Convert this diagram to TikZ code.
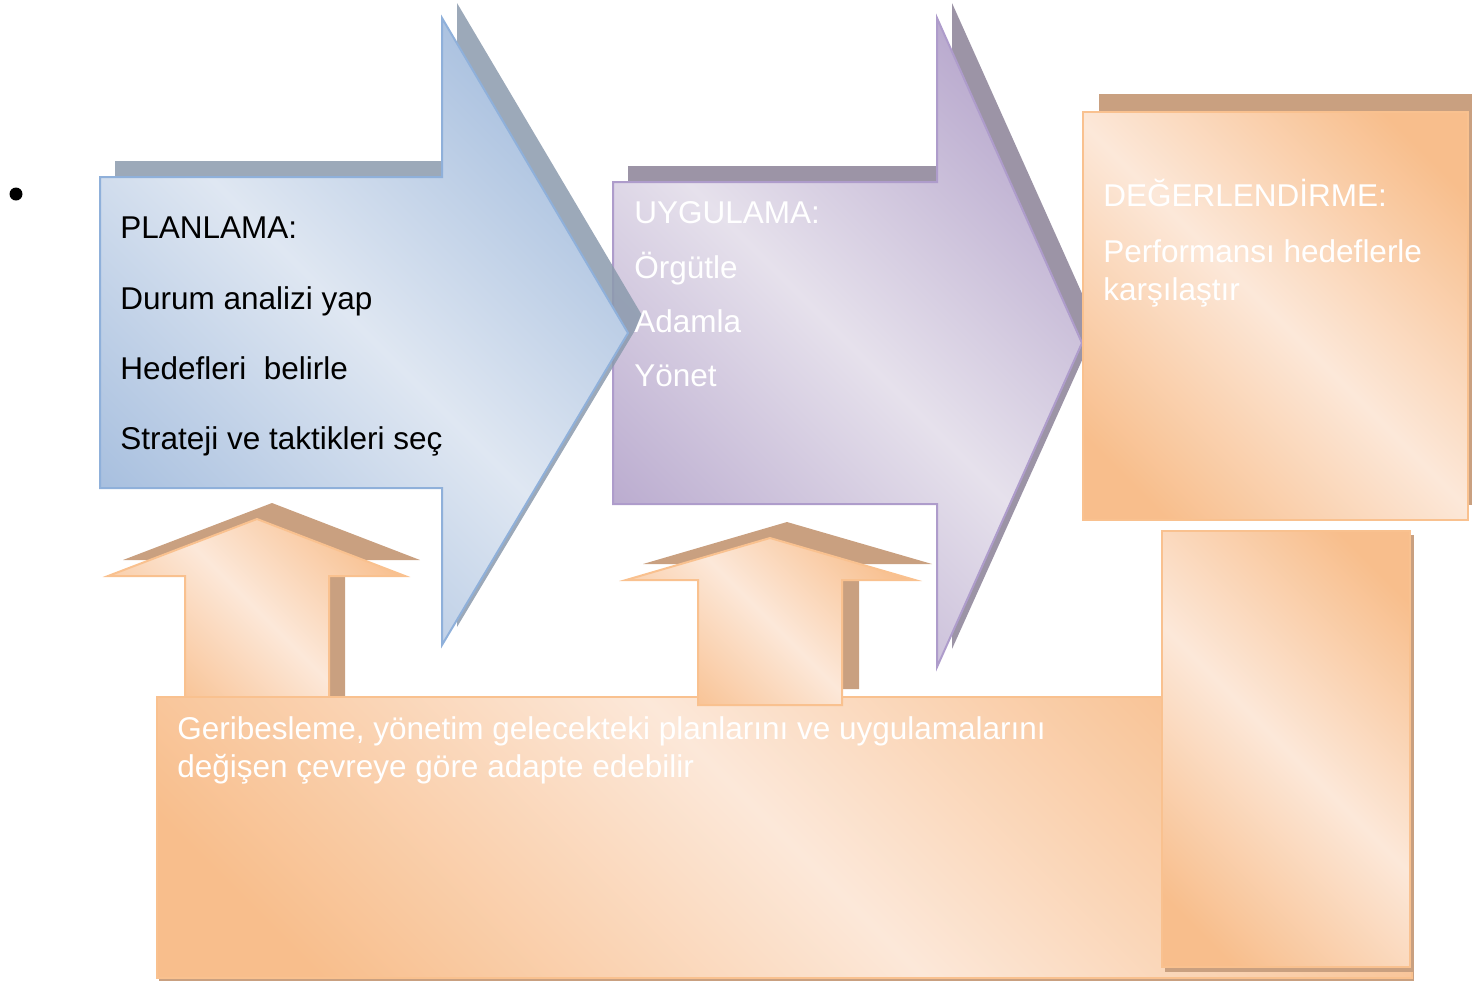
\documentclass[tikz,border=0pt]{standalone}
\usepackage{fontspec}
\setmainfont{Liberation Sans}
\definecolor{bluedark}{HTML}{A3BCDD}
\definecolor{bluelight}{HTML}{DFE7F2}
\definecolor{blueline}{HTML}{8FB0DA}
\definecolor{blueshadow}{HTML}{8B9AAD}
\definecolor{purpdark}{HTML}{B6A6CC}
\definecolor{purplight}{HTML}{E6E1EC}
\definecolor{purpline}{HTML}{AE9CCB}
\definecolor{purpshadow}{HTML}{9C94A6}
\definecolor{ordark}{HTML}{F8BE8C}
\definecolor{orlight}{HTML}{FCE8D9}
\definecolor{orline}{HTML}{F9C18F}
\definecolor{orshadow}{HTML}{C9A080}
\pgfdeclarehorizontalshading{bluerefl}{100bp}{color(0bp)=(bluedark); color(22bp)=(bluedark); color(50bp)=(bluelight); color(78bp)=(bluedark); color(100bp)=(bluedark)}
\pgfdeclarehorizontalshading{purprefl}{100bp}{color(0bp)=(purpdark); color(22bp)=(purpdark); color(50bp)=(purplight); color(78bp)=(purpdark); color(100bp)=(purpdark)}
\pgfdeclarehorizontalshading{orrefl}{100bp}{color(0bp)=(ordark); color(22bp)=(ordark); color(50bp)=(orlight); color(78bp)=(ordark); color(100bp)=(ordark)}
\begin{document}
\begin{tikzpicture}[x=0.5pt,y=-0.5pt,
  blueshape/.style={draw=blueline, line width=1pt, shading=bluerefl, shading angle=45},
  purpshape/.style={draw=purpline, line width=1pt, shading=purprefl, shading angle=45},
  orshape/.style={draw=orline, line width=1pt, shading=orrefl, shading angle=45},
  txt/.style={inner sep=0pt, anchor=base west, font=\fontsize{15.75}{18.9}\selectfont},
  wtxt/.style={txt, text=white}]
\useasboundingbox (0,0) rectangle (1472,981);
% bullet
\node[circle, fill=black, inner sep=0pt, minimum size=6.5pt] (bullet) at (16,194) {};
% purple arrow
\fill[purpshadow] (628,166) -- (952,166) -- (952,3) -- (1097,327) -- (952,649) -- (952,488) -- (628,488) -- cycle;
\path[purpshape] (613,182) -- (937,182) -- (937,18) -- (1082,343) -- (937,667) -- (937,504) -- (613,504) -- cycle;
% blue arrow
\fill[blueshadow, opacity=0.85] (115,161) -- (457,161) -- (457,3) -- (643,317) -- (457,627) -- (457,472) -- (115,472) -- cycle;
\path[blueshape] (100,177) -- (442,177) -- (442,18) -- (628,333) -- (442,645) -- (442,488) -- (100,488) -- cycle;
% top orange box
\fill[orshadow] (1099,94) rectangle (1484,505);
\path[orshape] (1083,112) rectangle (1468,520);
% up arrow 1
\fill[orshadow] (123,560) -- (200,560) -- (200,697) -- (345,697) -- (345,560) -- (420,560) -- (272,503) -- cycle;
\path[orshape] (108,576) -- (185,576) -- (185,700) -- (329,700) -- (329,576) -- (405,576) -- (257,519) -- cycle;
% bottom box
\fill[orshadow] (159,700) rectangle (1414,981);
\path[orshape] (157,697) rectangle (1412,978);
% up arrow 2
\fill[orshadow] (643,564) -- (715,564) -- (715,689) -- (859,689) -- (859,564) -- (932,564) -- (787,522) -- cycle;
\path[orshape] (626,580) -- (698,580) -- (698,705) -- (842,705) -- (842,580) -- (915,580) -- (770,538) -- cycle;
% vertical box
\fill[orshadow] (1165,535) rectangle (1414,972);
\path[orshape] (1162,531) rectangle (1410,967);
% texts
\node[txt] (pl1) at (120,238) {PLANLAMA:};
\node[txt] (pl2) at (120,309) {Durum analizi yap};
\node[txt] (pl3) at (120,379) {Hedefleri\ \ belirle};
\node[txt] (pl4) at (120,449) {Strateji ve taktikleri seç};
\node[wtxt] (uy1) at (634,223) {UYGULAMA:};
\node[wtxt] (uy2) at (634,278) {Örgütle};
\node[wtxt] (uy3) at (634,332) {Adamla};
\node[wtxt] (uy4) at (634,386) {Yönet};
\node[wtxt] (de1) at (1103,206) {DEĞERLENDİRME:};
\node[wtxt] (de2) at (1103,262) {Performansı hedeflerle};
\node[wtxt] (de3) at (1103,300) {karşılaştır};
\node[wtxt] (ge1) at (177,739) {Geribesleme, yönetim gelecekteki planlarını ve uygulamalarını};
\node[wtxt] (ge2) at (177,777) {değişen çevreye göre adapte edebilir};
\end{tikzpicture}
\end{document}
